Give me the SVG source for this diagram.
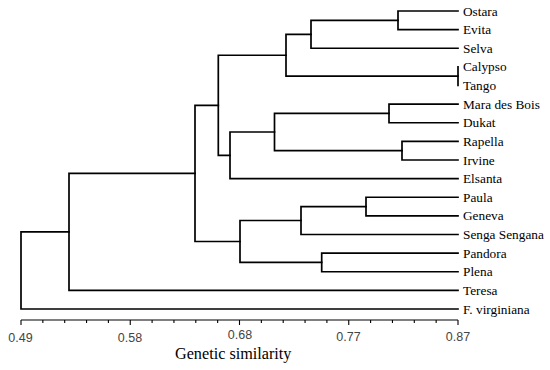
<svg xmlns="http://www.w3.org/2000/svg" width="550" height="370" viewBox="0 0 550 370">
<style>
.bg{fill:#fff}
.br{fill:none;stroke:#000;stroke-width:1.7;stroke-linecap:square;stroke-linejoin:miter}
.ax{fill:none;stroke:#000;stroke-width:1.1}
.lbl{font-family:"Liberation Serif","Times New Roman",serif;font-size:13.3px;fill:#000}
.tk{font-family:"Liberation Sans",Arial,sans-serif;font-size:12.5px;fill:#444;text-anchor:middle}
.ttl{font-family:"Liberation Serif","Times New Roman",serif;font-size:16.2px;fill:#000}
</style>
<rect class="bg" width="550" height="370"/>
<g id="connectors">
<path class="br" d="M458 11 H398 V29.6 H458"/>
<path class="br" d="M398 20.3 H311 V48.25 H458"/>
<path class="br" d="M458 66.9 V85.5"/>
<path class="br" d="M311 34.3 H286 V76.2 H458"/>
<path class="br" d="M458 104.1 H389 V122.75 H458"/>
<path class="br" d="M458 141.4 H402 V160 H458"/>
<path class="br" d="M389 113.4 H274.5 V150.7 H402"/>
<path class="br" d="M274.5 132 H230 V178.6 H458"/>
<path class="br" d="M286 55.25 H218.3 V155.3 H230"/>
<path class="br" d="M458 197.25 H366 V215.9 H458"/>
<path class="br" d="M366 206.6 H301 V234.5 H458"/>
<path class="br" d="M458 253.1 H321.7 V271.75 H458"/>
<path class="br" d="M301 220.5 H240 V262.4 H321.7"/>
<path class="br" d="M218.3 105.3 H195 V241.5 H240"/>
<path class="br" d="M195 173.4 H69 V290.4 H458"/>
<path class="br" d="M69 231.9 H21 V309 H458"/>
</g>
<g id="leaves">
<g id="n-ostara"><text class="lbl" x="463" y="15.5">Ostara</text></g>
<g id="n-evita"><text class="lbl" x="463" y="34.1">Evita</text></g>
<g id="n-selva"><text class="lbl" x="463" y="52.75">Selva</text></g>
<g id="n-calypso"><text class="lbl" x="463" y="71.4">Calypso</text></g>
<g id="n-tango"><text class="lbl" x="463" y="90">Tango</text></g>
<g id="n-mara"><text class="lbl" x="463" y="108.6">Mara des Bois</text></g>
<g id="n-dukat"><text class="lbl" x="463" y="127.25">Dukat</text></g>
<g id="n-rapella"><text class="lbl" x="463" y="145.9">Rapella</text></g>
<g id="n-irvine"><text class="lbl" x="463" y="164.5">Irvine</text></g>
<g id="n-elsanta"><text class="lbl" x="463" y="183.1">Elsanta</text></g>
<g id="n-paula"><text class="lbl" x="463" y="201.75">Paula</text></g>
<g id="n-geneva"><text class="lbl" x="463" y="220.4">Geneva</text></g>
<g id="n-senga"><text class="lbl" x="463" y="239">Senga Sengana</text></g>
<g id="n-pandora"><text class="lbl" x="463" y="257.6">Pandora</text></g>
<g id="n-plena"><text class="lbl" x="463" y="276.25">Plena</text></g>
<g id="n-teresa"><text class="lbl" x="463" y="294.9">Teresa</text></g>
<g id="n-fvirg"><text class="lbl" x="463" y="313.5">F. virginiana</text></g>
</g>
<g id="axis">
<path class="ax" d="M21 320 H458"/>
<path class="ax" d="M21 320 v5 M42.85 320 v3 M64.7 320 v3 M86.55 320 v3 M108.4 320 v3 M130.25 320 v5 M152.1 320 v3 M173.95 320 v3 M195.8 320 v3 M217.65 320 v3 M239.5 320 v5 M261.35 320 v3 M283.2 320 v3 M305.05 320 v3 M326.9 320 v3 M348.75 320 v5 M370.6 320 v3 M392.45 320 v3 M414.3 320 v3 M436.15 320 v3 M458 320 v5"/>
<text class="tk" x="20.5" y="341.5">0.49</text>
<text class="tk" x="130" y="341.5">0.58</text>
<text class="tk" x="240" y="339">0.68</text>
<text class="tk" x="348.5" y="340.5">0.77</text>
<text class="tk" x="458" y="340.5">0.87</text>
<text class="ttl" x="175" y="358.5">Genetic similarity</text>
</g>
</svg>
